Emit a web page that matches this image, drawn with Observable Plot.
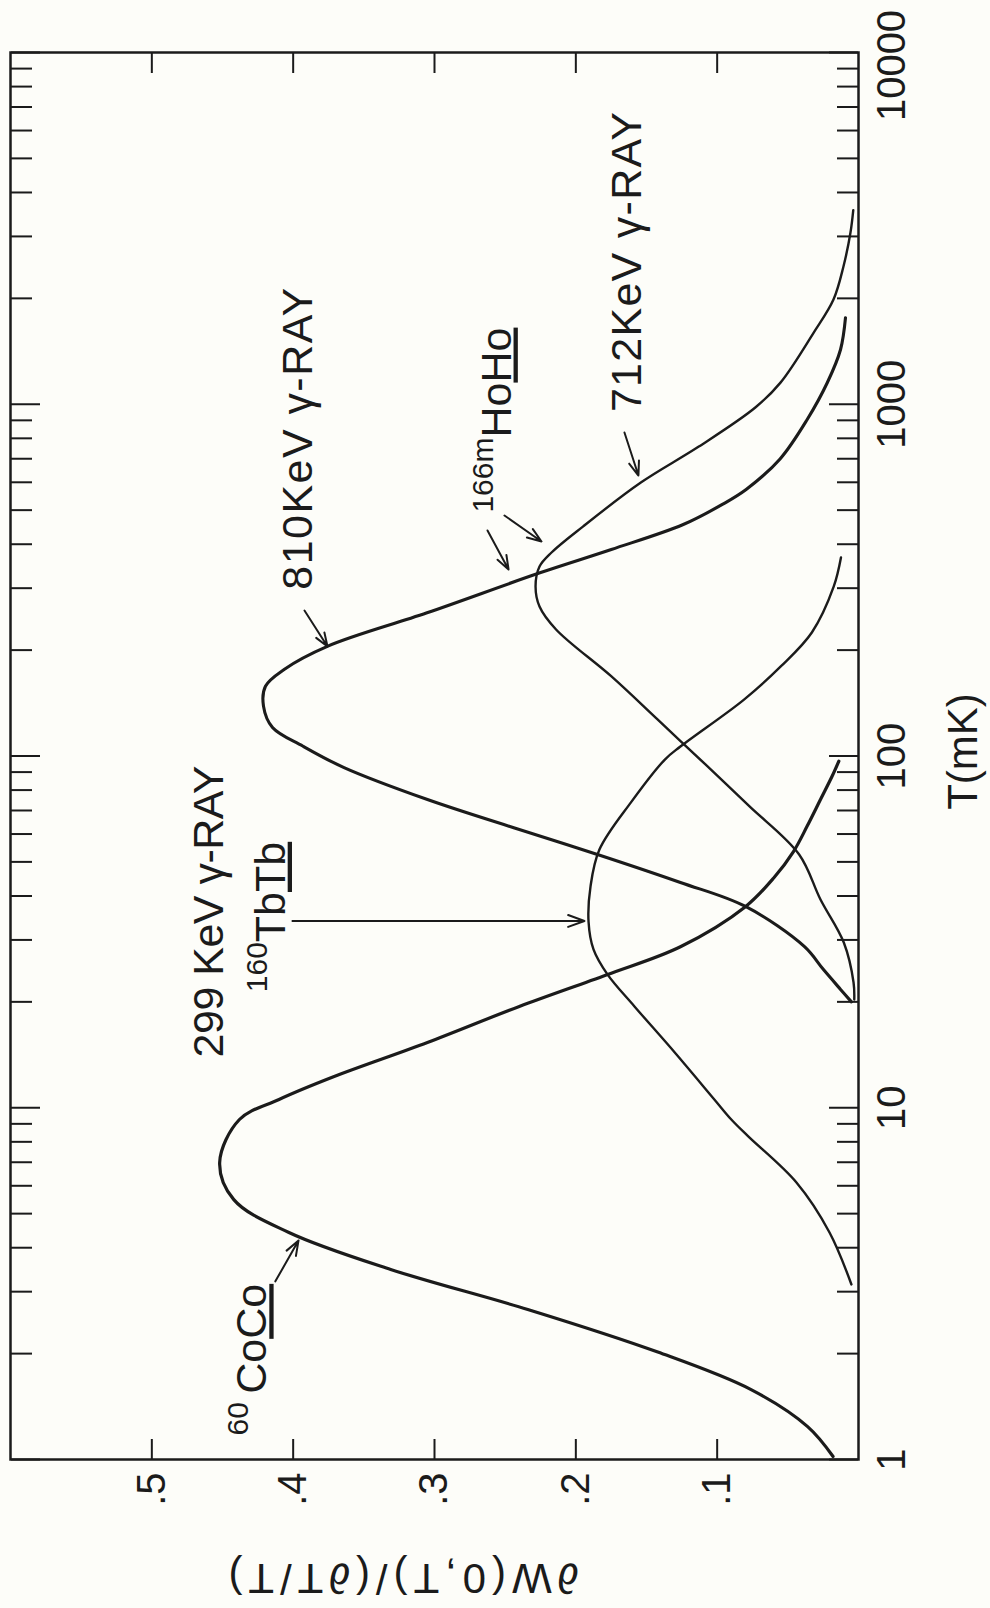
<!DOCTYPE html>
<html><head><meta charset="utf-8">
<script src="https://cdn.jsdelivr.net/npm/d3@7"></script>
<script src="https://cdn.jsdelivr.net/npm/@observablehq/plot@0.6"></script>
<style>
html,body{margin:0;padding:0;background:#fdfdf9;}
#wrap{position:relative;width:990px;height:1608px;overflow:hidden;background:#fdfdf9;}
#wrap svg{position:absolute;left:0;top:0;width:1608px !important;height:990px !important;max-width:none !important;transform-origin:0 0;transform:translate(0px,1608px) rotate(-90deg);}
</style></head><body><div id="wrap"></div>
<script>
// ---- data: temperature T (mK) and sensitivity dW(0,T)/(dT/T)
const coT = [1.02, 1.24, 1.58, 2.02, 2.67, 3.47, 4.42, 5.48, 6.99, 9.26, 10.56, 12.27, 15.33, 19.41, 23.9, 28.7, 37.3, 45, 53.5, 63.2, 75.2, 87.7, 96.7];
const coV = [0.018, 0.036, 0.076, 0.142, 0.234, 0.331, 0.403, 0.442, 0.452, 0.438, 0.410, 0.371, 0.305, 0.240, 0.178, 0.126, 0.080, 0.060, 0.046, 0.0363, 0.0269, 0.0186, 0.0139];

const tbT = [3.145, 4.42, 6.13, 8.29, 9.26, 10.56, 14.36, 19.41, 23.9, 28.2, 33.8, 42.6, 54.2, 73.8, 97.7, 106.4, 144.7, 179.7, 224.5, 303.4, 366.6];
const tbV = [0.005, 0.0205, 0.0439, 0.078, 0.090, 0.102, 0.130, 0.1585, 0.1775, 0.1875, 0.191, 0.1896, 0.1833, 0.161, 0.137, 0.126, 0.081, 0.055, 0.033, 0.0175, 0.0124];

const ho810T = [20.0, 21.7, 24.7, 28.7, 37.4, 43.7, 52.5, 61.8, 75.2, 92.7, 106.6, 120.5, 138.6, 157.9, 176.2, 205.3, 255.3, 331.7, 386.4, 455, 520, 572.4, 699, 905, 1151, 1431, 1762];
const ho810V = [0.005, 0.0127, 0.0248, 0.0382, 0.0803, 0.126, 0.1847, 0.240, 0.305, 0.364, 0.393, 0.4146, 0.421, 0.4196, 0.4064, 0.3754, 0.3053, 0.2254, 0.1749, 0.124, 0.096, 0.0795, 0.0555, 0.0363, 0.0221, 0.0127, 0.0092];

const ho712T = [20.3, 22.7, 29.5, 39.1, 52.5, 71.9, 94.6, 127, 168.3, 228.9, 266, 303.4, 345.7, 378.9, 449, 599, 758, 979, 1152, 1596, 1985, 2469, 3072, 3563];
const ho712V = [0.003, 0.0035, 0.0104, 0.0269, 0.042, 0.0771, 0.1083, 0.1422, 0.1748, 0.214, 0.2257, 0.2285, 0.2257, 0.2172, 0.195, 0.154, 0.113, 0.073, 0.0552, 0.0318, 0.0177, 0.0106, 0.0057, 0.0037];

// ---- ticks and labels
const tMajor = [1, 10, 100, 1000, 10000];
const tLabels = ["1", "10", "100", "1000", "10000"];
const tMinorFactors = [2, 3, 4, 5, 6, 7, 8, 9];
const vTicks = [0.1, 0.2, 0.3, 0.4, 0.5];
const vLabels = [".1", ".2", ".3", ".4", ".5"];
const xTitle = "T(mK)";
const yTitle = "\u2202W(0,T)/(\u2202T/T)";

// ---- annotations (anchor = start of text on its baseline)
const annoSup   = ["60 ", "", "160", "", "166m", ""];
const annoMain  = ["Co", "299 KeV \u03b3-RAY", "Tb", "810KeV \u03b3-RAY", "Ho", "712KeV \u03b3-RAY"];
const annoUnder = ["Co", "", "Tb", "", "Ho", ""];
const annoT     = [1.17, 13.9, 21.3, 297, 492, 950];
const annoV     = [0.419, 0.450, 0.406, 0.387, 0.2462, 0.1542];
const annoLen   = [0, 292, 0, 302, 0, 300];

// ---- arrows (tail -> head)
const arrT1 = [3.21, 33.96, 259.2, 437.6, 482.8, 831];
const arrV1 = [0.4126, 0.4005, 0.392, 0.2625, 0.2505, 0.1656];
const arrT2 = [4.195, 33.96, 204.8, 339, 407.3, 627];
const arrV2 = [0.3962, 0.1939, 0.3757, 0.2476, 0.2243, 0.1557];

// ---- build tables
const zip = (ts, vs) => ts.map((T, i) => ({T, v: vs[i]}));
const coData = zip(coT, coV), tbData = zip(tbT, tbV), h810 = zip(ho810T, ho810V), h712 = zip(ho712T, ho712V);
const tMinor = tMajor.slice(0, -1).flatMap(d => tMinorFactors.map(k => d * k));
const annos = annoMain.map((m, i) => ({sup: annoSup[i], main: m, under: annoUnder[i], T: annoT[i], v: annoV[i], len: annoLen[i]}));
const arrows = arrT1.map((t, i) => ({T1: t, v1: arrV1[i], T2: arrT2[i], v2: arrV2[i]}));

const ink = "#1b1b1b";
const font = "'Liberation Sans', Arial, Helvetica, sans-serif";
const blank = () => "";

const plot = Plot.plot({
  width: 1608, height: 990,
  marginLeft: 148, marginRight: 53, marginTop: 10, marginBottom: 132,
  x: {type: "log", domain: [1, 10000]},
  y: {domain: [0, 0.6]},
  style: {fontFamily: font, color: ink, background: "transparent", overflow: "visible"},
  marks: [
    // inward ticks on all four sides
    Plot.axisX(tMinor, {anchor: "bottom", tickSize: 21, dy: -21, tickFormat: blank, strokeWidth: 2, label: null}),
    Plot.axisX(tMajor, {anchor: "bottom", tickSize: 29, dy: -29, tickFormat: blank, strokeWidth: 2, label: null}),
    Plot.axisX(tMinor, {anchor: "top", tickSize: 21, dy: 21, tickFormat: blank, strokeWidth: 2, label: null}),
    Plot.axisX(tMajor, {anchor: "top", tickSize: 29, dy: 29, tickFormat: blank, strokeWidth: 2, label: null}),
    Plot.axisY(vTicks, {anchor: "left", tickSize: 21, dx: 21, tickFormat: blank, strokeWidth: 2, label: null}),
    Plot.axisY(vTicks, {anchor: "right", tickSize: 21, dx: -21, tickFormat: blank, strokeWidth: 2, label: null}),
    // tick labels
    Plot.axisX(tMajor.slice(0, -1), {anchor: "bottom", tickSize: 0, tickPadding: 18, fontSize: 40,
      tickFormat: d => tLabels[tMajor.indexOf(d)], label: null}),
    Plot.axisX(tMajor.slice(-1), {anchor: "bottom", tickSize: 0, tickPadding: 18, fontSize: 40, dx: -13,
      tickFormat: d => tLabels[tMajor.indexOf(d)], label: null}),
    Plot.axisY(vTicks, {anchor: "left", tickSize: 0, tickPadding: 13, fontSize: 40,
      tickFormat: d => vLabels[vTicks.indexOf(d)], label: null}),
    Plot.frame({stroke: ink, strokeWidth: 2.5}),
    // curves
    Plot.line(tbData, {x: "T", y: "v", stroke: ink, strokeWidth: 2.4, curve: "catmull-rom"}),
    Plot.line(h712, {x: "T", y: "v", stroke: ink, strokeWidth: 2.4, curve: "catmull-rom"}),
    Plot.line(h810, {x: "T", y: "v", stroke: ink, strokeWidth: 3.1, curve: "catmull-rom"}),
    Plot.line(coData, {x: "T", y: "v", stroke: ink, strokeWidth: 3.2, curve: "catmull-rom"}),
    // arrows
    Plot.arrow(arrows, {x1: "T1", y1: "v1", x2: "T2", y2: "v2", stroke: ink, strokeWidth: 2, headLength: 13, headAngle: 40}),
    // annotations
    Plot.text(annos, {x: "T", y: "v", text: d => d.sup + d.main + d.under, textAnchor: "start", lineAnchor: "bottom",
      fontSize: 43, fill: ink}),
    // axis titles
    Plot.text([xTitle], {x: [103], frameAnchor: "bottom", dy: 105, text: d => d, textAnchor: "middle",
      lineAnchor: "middle", fontSize: 42, fill: ink}),
    Plot.text([yTitle], {y: [0.322], frameAnchor: "left", dx: -118, rotate: -90, text: d => d, textAnchor: "middle",
      lineAnchor: "middle", fontSize: 42, fill: ink})
  ]
});

// rich text: superscript isotope number and underlined host element; label lengths
const NS = "http://www.w3.org/2000/svg";
const allTexts = Array.from(plot.querySelectorAll("text"));
annos.forEach(a => {
  const full = a.sup + a.main + a.under;
  const el = allTexts.find(t => t.textContent === full);
  if (!el) return;
  if (a.len) {
    el.setAttribute("textLength", a.len);
    el.setAttribute("lengthAdjust", "spacing");
  }
  if (!a.sup) return;
  el.textContent = "";
  const s = document.createElementNS(NS, "tspan");
  s.setAttribute("font-size", "30");
  s.setAttribute("dy", "-18");
  s.textContent = a.sup;
  el.appendChild(s);
  const m = document.createElementNS(NS, "tspan");
  m.setAttribute("dy", "18");
  m.textContent = a.main;
  el.appendChild(m);
  const u = document.createElementNS(NS, "tspan");
  u.setAttribute("text-decoration", "underline");
  u.style.textDecoration = "underline";
  u.textContent = a.under;
  el.appendChild(u);
});
const yEl = allTexts.find(t => t.textContent === yTitle);
if (yEl) { yEl.setAttribute("textLength", 350); yEl.setAttribute("lengthAdjust", "spacing"); }

document.getElementById("wrap").appendChild(plot);
</script>
</body></html>
